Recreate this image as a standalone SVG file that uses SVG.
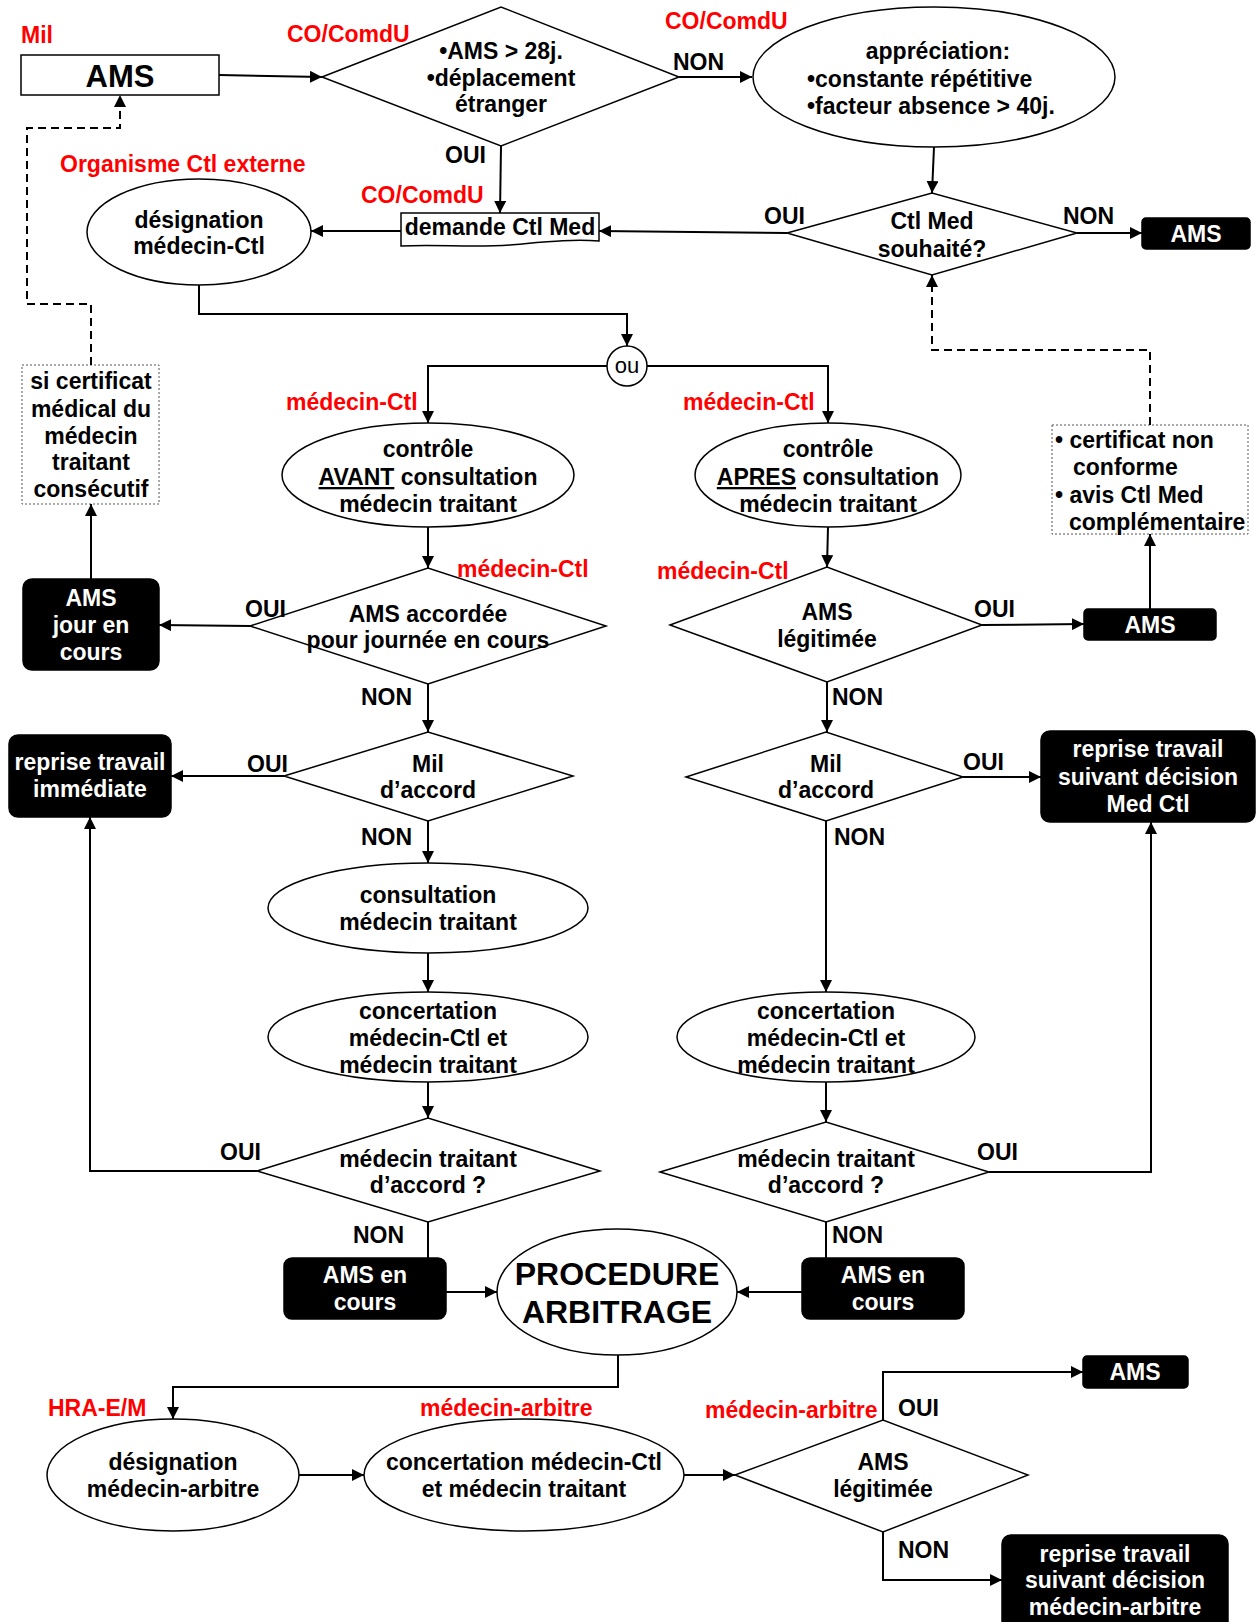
<svg xmlns="http://www.w3.org/2000/svg" width="1258" height="1622" viewBox="0 0 1258 1622">
<defs>
  <marker id="arrow" viewBox="0 0 12 12" refX="12" refY="6" markerWidth="12" markerHeight="12" orient="auto" markerUnits="userSpaceOnUse">
    <path d="M0,0 L12,6 L0,12 Z" fill="#000"/>
  </marker>
</defs>
<style>
  text{font-family:"Liberation Sans",Arial,sans-serif;font-weight:bold;font-size:23px;fill:#000}
  .c{text-anchor:middle}
  .red{fill:#ff0000}
  .w{fill:#fff}
  .shape{fill:#fff;stroke:#000;stroke-width:1.5}
  .blk{fill:#000;stroke:#000;stroke-width:1.5}
  .note{fill:#fff;stroke:#555;stroke-width:1;stroke-dasharray:2 2}
  .ln{fill:none;stroke:#000;stroke-width:2}
  .ar{marker-end:url(#arrow)}
  .dash{stroke-dasharray:8 5}
  .big{font-size:31px}
  .huge{font-size:32px}
  .reg{font-weight:normal;font-size:22px}
  .u{text-decoration:underline}
</style>
<rect width="1258" height="1622" fill="#fff"/>

<!-- top row -->
<g id="ams-start">
  <rect class="shape" x="21" y="55" width="198" height="40"/>
  <text class="c big" x="120" y="87">AMS</text>
</g>
<g id="q-duree">
  <polygon class="shape" points="322,77 501,7 679,77 501,146"/>
  <text class="c" x="501" y="59">•AMS &gt; 28j.</text>
  <text class="c" x="501" y="86">•déplacement</text>
  <text class="c" x="501" y="112">étranger</text>
</g>
<g id="appreciation">
  <ellipse class="shape" cx="934" cy="77" rx="181" ry="70"/>
  <text class="c" x="938" y="59">appréciation:</text>
  <text x="807" y="87">•constante répétitive</text>
  <text x="807" y="114">•facteur absence &gt; 40j.</text>
</g>
<g id="q-ctl-souhaite">
  <polygon class="shape" points="787,233 932,193 1077,233 932,275"/>
  <text class="c" x="932" y="229">Ctl Med</text>
  <text class="c" x="932" y="257">souhaité?</text>
</g>
<g id="ams-sans-ctl">
  <rect class="blk" x="1142" y="218" width="108" height="31" rx="4"/>
  <text class="c w" x="1196" y="242">AMS</text>
</g>
<g id="demande-ctl">
  <path class="shape" d="M401,213 H599 V241 C570,239 545,242 510,245 C470,248 440,244 401,246 Z"/>
  <text class="c" x="500" y="235">demande Ctl Med</text>
</g>
<g id="designation-ctl">
  <ellipse class="shape" cx="199" cy="232" rx="112" ry="53"/>
  <text class="c" x="199" y="228">désignation</text>
  <text class="c" x="199" y="254">médecin-Ctl</text>
</g>
<g id="ou">
  <circle class="shape" cx="627" cy="366" r="20"/>
  <text class="c reg" x="627" y="373">ou</text>
</g>

<!-- left branch -->
<g id="controle-avant">
  <ellipse class="shape" cx="428" cy="475" rx="146" ry="52"/>
  <text class="c" x="428" y="457">contrôle</text>
  <text class="c" x="428" y="485"><tspan class="u">AVANT</tspan> consultation</text>
  <text class="c" x="428" y="512">médecin traitant</text>
</g>
<g id="q-ams-accordee">
  <polygon class="shape" points="250,626 428,568 606,626 428,684"/>
  <text class="c" x="428" y="622">AMS accordée</text>
  <text class="c" x="428" y="648">pour journée en cours</text>
</g>
<g id="ams-jour">
  <rect class="blk" x="23" y="579" width="136" height="91" rx="9"/>
  <text class="c w" x="91" y="606">AMS</text>
  <text class="c w" x="91" y="633">jour en</text>
  <text class="c w" x="91" y="660">cours</text>
</g>
<g id="note-certificat">
  <rect class="note" x="22" y="365" width="137" height="139"/>
  <text class="c" x="91" y="389">si certificat</text>
  <text class="c" x="91" y="417">médical du</text>
  <text class="c" x="91" y="444">médecin</text>
  <text class="c" x="91" y="470">traitant</text>
  <text class="c" x="91" y="497">consécutif</text>
</g>
<g id="q-mil-gauche">
  <polygon class="shape" points="284,776 428,732 573,776 428,821"/>
  <text class="c" x="428" y="772">Mil</text>
  <text class="c" x="428" y="798">d’accord</text>
</g>
<g id="reprise-immediate">
  <rect class="blk" x="9" y="735" width="162" height="82" rx="9"/>
  <text class="c w" x="90" y="770">reprise travail</text>
  <text class="c w" x="90" y="797">immédiate</text>
</g>
<g id="consultation">
  <ellipse class="shape" cx="428" cy="908" rx="160" ry="45"/>
  <text class="c" x="428" y="903">consultation</text>
  <text class="c" x="428" y="930">médecin traitant</text>
</g>
<g id="concertation-gauche">
  <ellipse class="shape" cx="428" cy="1037" rx="160" ry="45"/>
  <text class="c" x="428" y="1019">concertation</text>
  <text class="c" x="428" y="1046">médecin-Ctl et</text>
  <text class="c" x="428" y="1073">médecin traitant</text>
</g>
<g id="q-traitant-gauche">
  <polygon class="shape" points="257,1171 428,1118 600,1171 428,1222"/>
  <text class="c" x="428" y="1167">médecin traitant</text>
  <text class="c" x="428" y="1193">d’accord ?</text>
</g>
<g id="ams-en-cours-gauche">
  <rect class="blk" x="284" y="1258" width="162" height="61" rx="8"/>
  <text class="c w" x="365" y="1283">AMS en</text>
  <text class="c w" x="365" y="1310">cours</text>
</g>

<!-- right branch -->
<g id="controle-apres">
  <ellipse class="shape" cx="828" cy="475" rx="133" ry="52"/>
  <text class="c" x="828" y="457">contrôle</text>
  <text class="c" x="828" y="485"><tspan class="u">APRES</tspan> consultation</text>
  <text class="c" x="828" y="512">médecin traitant</text>
</g>
<g id="q-ams-legitimee">
  <polygon class="shape" points="670,625 827,567 982,625 827,682"/>
  <text class="c" x="827" y="620">AMS</text>
  <text class="c" x="827" y="647">légitimée</text>
</g>
<g id="ams-legitimee">
  <rect class="blk" x="1084" y="609" width="132" height="31" rx="4"/>
  <text class="c w" x="1150" y="633">AMS</text>
</g>
<g id="note-non-conforme">
  <rect class="note" x="1052" y="425" width="196" height="109"/>
  <text x="1055" y="448">• certificat non</text>
  <text x="1073" y="475">conforme</text>
  <text x="1055" y="503">• avis Ctl Med</text>
  <text x="1069" y="530">complémentaire</text>
</g>
<g id="q-mil-droite">
  <polygon class="shape" points="686,777 826,732 963,777 826,821"/>
  <text class="c" x="826" y="772">Mil</text>
  <text class="c" x="826" y="798">d’accord</text>
</g>
<g id="reprise-med-ctl">
  <rect class="blk" x="1041" y="731" width="214" height="91" rx="9"/>
  <text class="c w" x="1148" y="757">reprise travail</text>
  <text class="c w" x="1148" y="785">suivant décision</text>
  <text class="c w" x="1148" y="812">Med Ctl</text>
</g>
<g id="concertation-droite">
  <ellipse class="shape" cx="826" cy="1037" rx="149" ry="45"/>
  <text class="c" x="826" y="1019">concertation</text>
  <text class="c" x="826" y="1046">médecin-Ctl et</text>
  <text class="c" x="826" y="1073">médecin traitant</text>
</g>
<g id="q-traitant-droite">
  <polygon class="shape" points="660,1172 826,1122 989,1172 826,1222"/>
  <text class="c" x="826" y="1167">médecin traitant</text>
  <text class="c" x="826" y="1193">d’accord ?</text>
</g>
<g id="ams-en-cours-droite">
  <rect class="blk" x="802" y="1258" width="162" height="61" rx="8"/>
  <text class="c w" x="883" y="1283">AMS en</text>
  <text class="c w" x="883" y="1310">cours</text>
</g>

<!-- arbitration -->
<g id="procedure-arbitrage">
  <ellipse class="shape" cx="617" cy="1292" rx="120" ry="63"/>
  <text class="c huge" x="617" y="1285">PROCEDURE</text>
  <text class="c huge" x="617" y="1323">ARBITRAGE</text>
</g>
<g id="designation-arbitre">
  <ellipse class="shape" cx="173" cy="1475" rx="126" ry="56"/>
  <text class="c" x="173" y="1470">désignation</text>
  <text class="c" x="173" y="1497">médecin-arbitre</text>
</g>
<g id="concertation-arbitre">
  <ellipse class="shape" cx="524" cy="1475" rx="160" ry="56"/>
  <text class="c" x="524" y="1470">concertation médecin-Ctl</text>
  <text class="c" x="524" y="1497">et médecin traitant</text>
</g>
<g id="q-arbitre">
  <polygon class="shape" points="735,1475 883,1420 1028,1475 883,1532"/>
  <text class="c" x="883" y="1470">AMS</text>
  <text class="c" x="883" y="1497">légitimée</text>
</g>
<g id="ams-arbitre">
  <rect class="blk" x="1083" y="1356" width="105" height="32" rx="4"/>
  <text class="c w" x="1135" y="1380">AMS</text>
</g>
<g id="reprise-arbitre">
  <rect class="blk" x="1002" y="1535" width="226" height="100" rx="9"/>
  <text class="c w" x="1115" y="1562">reprise travail</text>
  <text class="c w" x="1115" y="1588">suivant décision</text>
  <text class="c w" x="1115" y="1615">médecin-arbitre</text>
</g>

<!-- connectors -->
<g id="connectors">
  <path class="ln ar" d="M219,75 L322,77"/>
  <path class="ln ar" d="M679,77 L752,77"/>
  <path class="ln ar" d="M501,146 L500,213"/>
  <path class="ln ar" d="M934,147 L932,193"/>
  <path class="ln ar" d="M1077,233 L1142,233"/>
  <path class="ln ar" d="M787,233 L599,231"/>
  <path class="ln ar" d="M401,231 L311,231"/>
  <path class="ln ar" d="M199,285 V314 H627 V346"/>
  <path class="ln ar" d="M607,366 H428 V423"/>
  <path class="ln ar" d="M647,366 H828 V423"/>
  <path class="ln ar" d="M428,527 V568"/>
  <path class="ln ar" d="M250,626 L159,625"/>
  <path class="ln ar" d="M91,579 V504"/>
  <path class="ln ar dash" d="M91,365 V304 H27 V128 H120 V95"/>
  <path class="ln ar" d="M428,684 V732"/>
  <path class="ln ar" d="M284,776 H171"/>
  <path class="ln ar" d="M428,821 V863"/>
  <path class="ln ar" d="M428,953 V992"/>
  <path class="ln ar" d="M428,1082 V1118"/>
  <path class="ln ar" d="M257,1171 H90 V817"/>
  <path class="ln" d="M428,1222 V1258"/>
  <path class="ln ar" d="M446,1292 H497"/>
  <path class="ln ar" d="M828,527 L827,567"/>
  <path class="ln ar" d="M982,625 L1084,624"/>
  <path class="ln ar" d="M1150,609 V534"/>
  <path class="ln ar dash" d="M1150,425 V350 H932 V275"/>
  <path class="ln ar" d="M827,682 V732"/>
  <path class="ln ar" d="M963,777 H1041"/>
  <path class="ln ar" d="M826,821 V992"/>
  <path class="ln ar" d="M826,1082 V1122"/>
  <path class="ln ar" d="M989,1172 H1151 V822"/>
  <path class="ln" d="M826,1222 V1258"/>
  <path class="ln ar" d="M802,1292 H737"/>
  <path class="ln ar" d="M618,1355 V1387 H173 V1419"/>
  <path class="ln ar" d="M299,1475 H364"/>
  <path class="ln ar" d="M684,1475 H735"/>
  <path class="ln ar" d="M883,1420 V1372 H1083"/>
  <path class="ln ar" d="M883,1532 V1580 H1002"/>
</g>

<!-- branch labels and actors -->
<g id="labels">
  <text class="red" x="21" y="43">Mil</text>
  <text class="red" x="287" y="42">CO/ComdU</text>
  <text class="red" x="665" y="29">CO/ComdU</text>
  <text class="red" x="361" y="203">CO/ComdU</text>
  <text class="red" x="60" y="172">Organisme Ctl externe</text>
  <text class="red" x="286" y="410">médecin-Ctl</text>
  <text class="red" x="683" y="410">médecin-Ctl</text>
  <text class="red" x="457" y="577">médecin-Ctl</text>
  <text class="red" x="657" y="579">médecin-Ctl</text>
  <text class="red" x="48" y="1416">HRA-E/M</text>
  <text class="red" x="420" y="1416">médecin-arbitre</text>
  <text class="red" x="705" y="1418">médecin-arbitre</text>
  <text x="673" y="70">NON</text>
  <text x="445" y="163">OUI</text>
  <text x="764" y="224">OUI</text>
  <text x="1063" y="224">NON</text>
  <text x="245" y="617">OUI</text>
  <text x="974" y="617">OUI</text>
  <text x="361" y="705">NON</text>
  <text x="832" y="705">NON</text>
  <text x="247" y="772">OUI</text>
  <text x="963" y="770">OUI</text>
  <text x="361" y="845">NON</text>
  <text x="834" y="845">NON</text>
  <text x="220" y="1160">OUI</text>
  <text x="977" y="1160">OUI</text>
  <text x="353" y="1243">NON</text>
  <text x="832" y="1243">NON</text>
  <text x="898" y="1416">OUI</text>
  <text x="898" y="1558">NON</text>
</g>
</svg>
